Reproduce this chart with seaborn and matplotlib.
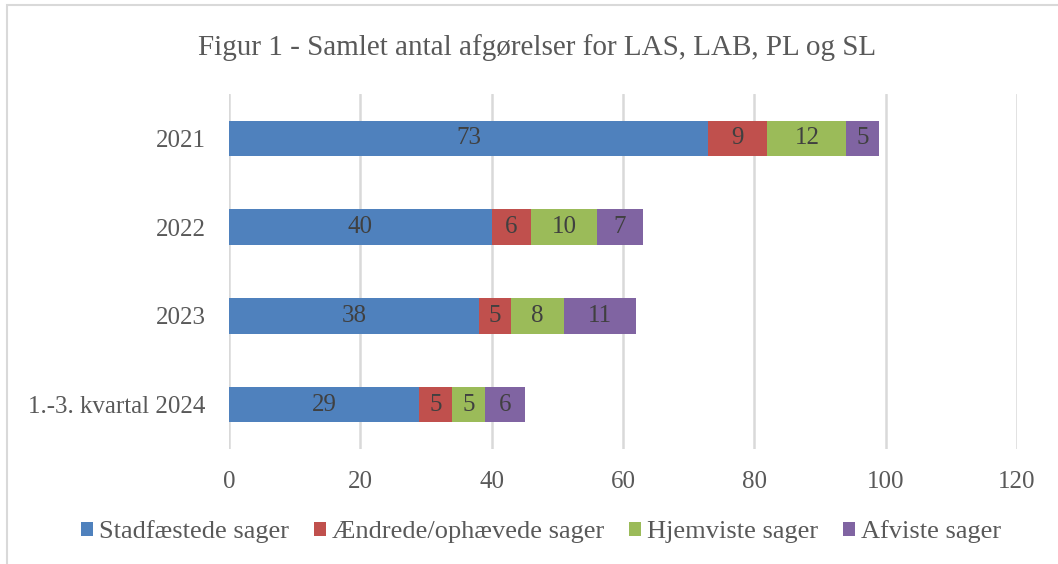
import matplotlib
matplotlib.use("Agg")
import matplotlib.pyplot as plt
import seaborn as sns
import numpy as np
from matplotlib.patches import Rectangle

# data
periods = ["2021", "2022", "2023", "1.-3. kvartal 2024"]
series = ["Stadfæstede sager", "Ændrede/ophævede sager", "Hjemviste sager", "Afviste sager"]
stadfaestede = [73, 40, 38, 29]
aendrede = [9, 6, 5, 5]
hjemviste = [12, 10, 8, 5]
afviste = [5, 7, 11, 6]
colors = ["#4F81BD", "#C0504D", "#9BBB59", "#8064A2"]
x_ticks = [0, 20, 40, 60, 80, 100, 120]

sns.set_style("white")
plt.rcParams['font.family'] = ['Liberation Serif', 'DejaVu Serif']

fig = plt.figure(figsize=(10.58, 5.64), dpi=100)
ax = fig.add_axes([229 / 1058, 1 - 449 / 564, (1017 - 229) / 1058, (449 - 94) / 564])

text_col = "#595959"
left = np.zeros(len(periods))
for vals, name, col in zip([stadfaestede, aendrede, hjemviste, afviste], series, colors):
    sns.barplot(x=vals, y=periods, left=left, color=col, saturation=1, width=0.4,
                label=name, ax=ax, orient="h", zorder=3, linewidth=0)
    ax.bar_label(ax.containers[-1], label_type="center", color="#404040", fontsize=18)
    left = left + np.array(vals)

ax.set_xlim(0, 120)
ax.set_xticks(x_ticks)
ax.set_ylim(3.5, -0.5)
ax.grid(axis="x", color="#D9D9D9", linewidth=1.8, zorder=0)
for s in ax.spines.values():
    s.set_visible(False)
ax.tick_params(axis="both", length=0, labelsize=18, colors=text_col)
ax.tick_params(axis="y", pad=17)
ax.tick_params(axis="x", pad=16)
ax.set_xlabel("")
ax.set_ylabel("")

fig.suptitle("Figur 1 - Samlet antal afgørelser for LAS, LAB, PL og SL",
             x=0.508, y=0.939, fontsize=21, color=text_col)

ax.legend(loc="center", bbox_to_anchor=(541 / 1058, 1 - 532 / 564),
          bbox_transform=fig.transFigure, ncol=4, frameon=False, fontsize=19,
          handlelength=0.45, handleheight=0.45, handletextpad=0.22,
          columnspacing=0.95, labelcolor=text_col)

# chart frame
fig.patches.append(Rectangle((7 / 1058, -0.1), 1.2, 1 - 5 / 564 + 0.1,
                             transform=fig.transFigure, fill=False,
                             edgecolor="#D9D9D9", linewidth=1.5))

fig.savefig("out.png", dpi=100)
